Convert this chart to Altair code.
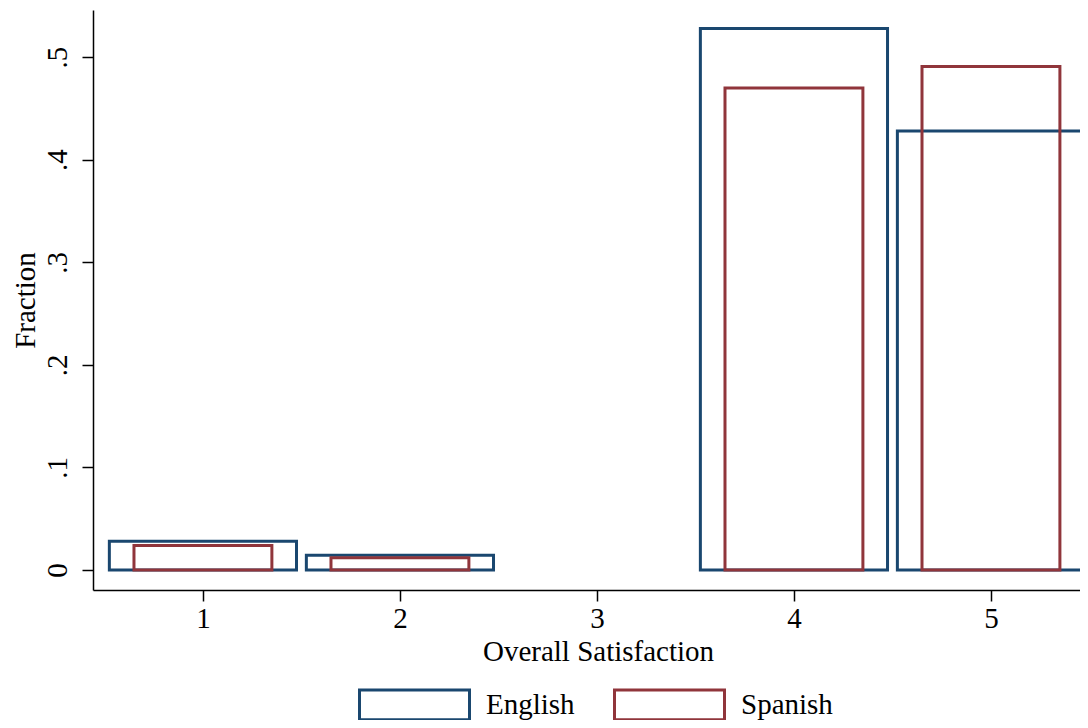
import altair as alt
import pandas as pd

# Data
categories = [1, 2, 4, 5]
english = [0.028, 0.0145, 0.528, 0.428]
spanish = [0.024, 0.012, 0.470, 0.491]
x_ticks = [1, 2, 3, 4, 5]
y_ticks = [0, 0.1, 0.2, 0.3, 0.4, 0.5]

rows = []
for c, v in zip(categories, english):
    rows.append({"cat": c, "frac": v, "lang": "English"})
for c, v in zip(categories, spanish):
    rows.append({"cat": c, "frac": v, "lang": "Spanish"})
df = pd.DataFrame(rows)

FONT = "Liberation Serif"
FS = 29

bars = (
    alt.Chart(df)
    .transform_calculate(
        hw="datum.lang == 'English' ? 0.475 : 0.35",
    )
    .transform_calculate(
        x1="datum.cat - datum.hw",
        x2="datum.cat + datum.hw",
    )
    .mark_rect(filled=False, strokeWidth=3, clip=True)
    .encode(
        x=alt.X(
            "x1:Q",
            scale=alt.Scale(domain=[0.442, 5.452], nice=False, zero=False),
            axis=alt.Axis(
                values=x_ticks,
                format="d",
                title="Overall Satisfaction",
                grid=False,
                domainColor="black",
                domainWidth=1.5,
                tickColor="black",
                tickWidth=1.5,
                tickSize=11,
                labelPadding=3,
                titlePadding=4,
                titleX=505,
            ),
        ),
        x2="x2:Q",
        y=alt.Y(
            "frac:Q",
            scale=alt.Scale(domain=[-0.0195, 0.546], nice=False, zero=False),
            axis=alt.Axis(
                values=y_ticks,
                labelExpr="datum.value == 0 ? '0' : replace(format(datum.value, '.1f'), '0.', '.')",
                title="Fraction",
                grid=False,
                domainColor="black",
                domainWidth=1.5,
                tickColor="black",
                tickWidth=1.5,
                tickSize=11,
                labelAngle=270,
                labelAlign="center",
                labelBaseline="bottom",
                labelPadding=10,
                titlePadding=3,
            ),
        ),
        y2=alt.datum(0),
        color=alt.Color(
            "lang:N",
            scale=alt.Scale(domain=["English", "Spanish"], range=["#1a476f", "#90353b"]),
            legend=alt.Legend(
                title=None,
                orient="none",
                direction="horizontal",
                legendX=265,
                legendY=638,
                symbolType="M-1,-0.27L1,-0.27L1,0.27L-1,0.27Z",
                symbolSize=12100,
                symbolStrokeWidth=3,
                symbolFillColor="white",
                labelFont=FONT,
                labelFontSize=FS,
                labelColor="black",
                labelOffset=15,
                columnPadding=33,
                padding=0,
            ),
        ),
        order=alt.Order("lang:N"),
    )
)

chart = (
    bars.properties(
        width=987,
        height=580,
        autosize=alt.AutoSizeParams(type="none"),
        padding={"left": 85, "top": 2, "right": 0, "bottom": 130},
        background="white",
    )
    .configure_view(stroke=None)
    .configure_axis(
        labelFont=FONT,
        titleFont=FONT,
        labelFontSize=FS,
        titleFontSize=FS,
        labelColor="black",
        titleColor="black",
        titleFontWeight="normal",
    )
)

chart.save("out.html", embed_options={"renderer": "svg", "actions": False})
